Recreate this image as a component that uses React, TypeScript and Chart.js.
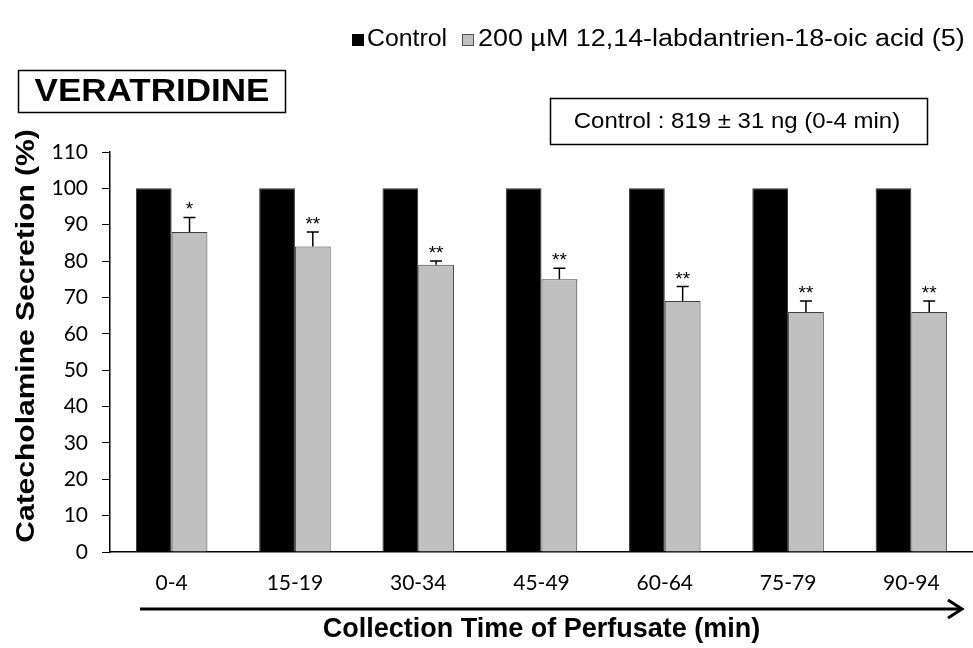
import React, { useEffect, useRef } from 'react';
import { Chart, registerables } from 'chart.js';

Chart.register(...registerables);

const categories = ['0-4', '15-19', '30-34', '45-49', '60-64', '75-79', '90-94'];
const controlValues = [100, 100, 100, 100, 100, 100, 100];
const treatedValues = [88, 84, 79, 75, 69, 66, 66];
const treatedErrors = [4, 4, 1, 3, 4, 3, 3];
const significance = ['*', '**', '**', '**', '**', '**', '**'];
const controlLabel = 'Control';
const treatedLabel = '200 \u00b5M 12,14-labdantrien-18-oic acid (5)';
const panelTitle = 'VERATRIDINE';
const controlNote = 'Control : 819 \u00b1 31 ng (0-4 min)';
const yTitle = 'Catecholamine Secretion (%)';
const xTitle = 'Collection Time of Perfusate (min)';

function drawText(ctx: CanvasRenderingContext2D, text: string, x: number, y: number, font: string, sx: number, align: CanvasTextAlign, rot = 0) {
  ctx.save();
  ctx.translate(x, y);
  if (rot) ctx.rotate(rot);
  ctx.scale(sx, 1);
  ctx.font = font;
  ctx.textAlign = align;
  ctx.textBaseline = 'middle';
  ctx.fillStyle = '#000';
  ctx.fillText(text, 0, 0);
  ctx.restore();
}

const overlayPlugin = {
  id: 'overlay',
  afterDatasetsDraw(chart: any) {
    const ctx: CanvasRenderingContext2D = chart.ctx;
    const yScale = chart.scales.y;
    const meta = chart.getDatasetMeta(1);
    ctx.save();
    ctx.strokeStyle = '#000';
    ctx.lineWidth = 1.5;
    meta.data.forEach((bar: any, i: number) => {
      const x = bar.x;
      const yTop = yScale.getPixelForValue(treatedValues[i]);
      const yErr = yScale.getPixelForValue(treatedValues[i] + treatedErrors[i]);
      ctx.beginPath();
      ctx.moveTo(x, yTop);
      ctx.lineTo(x, yErr);
      ctx.moveTo(x - 6, yErr);
      ctx.lineTo(x + 6, yErr);
      ctx.stroke();
      ctx.font = '19px "Liberation Sans"';
      ctx.textAlign = 'center';
      ctx.textBaseline = 'alphabetic';
      ctx.fillStyle = '#000';
      ctx.fillText(significance[i], x, yErr - 2);
    });
    ctx.restore();
  },
  afterDraw(chart: any) {
    const ctx: CanvasRenderingContext2D = chart.ctx;
    ctx.save();
    // legend
    ctx.fillStyle = '#000';
    ctx.fillRect(352, 34, 12, 12);
    ctx.fillStyle = '#c0c0c0';
    ctx.fillRect(462, 34, 12, 12);
    ctx.strokeStyle = '#555';
    ctx.lineWidth = 1;
    ctx.strokeRect(462.5, 34.5, 11, 11);
    drawText(ctx, controlLabel, 367, 40, '23px "Liberation Sans"', 1.08, 'left');
    drawText(ctx, treatedLabel, 478, 40, '23px "Liberation Sans"', 1.17, 'left');
    // panel title box
    ctx.strokeStyle = '#000';
    ctx.lineWidth = 1.5;
    ctx.strokeRect(18.5, 70.5, 267, 42);
    drawText(ctx, panelTitle, 152, 92, 'bold 31px "Liberation Sans"', 1.13, 'center');
    // control note box
    ctx.lineWidth = 1.5;
    ctx.strokeRect(550.5, 98.5, 377, 46);
    drawText(ctx, controlNote, 737, 122, '22px "Liberation Sans"', 1.09, 'center');
    // y axis title
    drawText(ctx, yTitle, 27, 336, 'bold 25px "Liberation Sans"', 1.2, 'center', -Math.PI / 2);
    // arrow
    ctx.strokeStyle = '#000';
    ctx.lineWidth = 3;
    ctx.beginPath();
    ctx.moveTo(140, 609);
    ctx.lineTo(961, 609);
    ctx.stroke();
    ctx.beginPath();
    ctx.moveTo(948, 600);
    ctx.lineTo(962, 609);
    ctx.lineTo(948, 618);
    ctx.stroke();
    ctx.restore();
  },
};

export default function App() {
  const canvasRef = useRef<HTMLCanvasElement | null>(null);

  useEffect(() => {
    const canvas = canvasRef.current;
    if (!canvas) return;
    const chart = new Chart(canvas, {
      type: 'bar',
      data: {
        labels: categories,
        datasets: [
          {
            label: controlLabel,
            data: controlValues,
            backgroundColor: '#000000',
            borderColor: '#333333',
            borderWidth: 1,
            barPercentage: 1,
            categoryPercentage: 0.58,
          },
          {
            label: treatedLabel,
            data: treatedValues,
            backgroundColor: '#c0c0c0',
            borderColor: '#404040',
            borderWidth: 1,
            barPercentage: 1,
            categoryPercentage: 0.58,
          },
        ],
      },
      options: {
        animation: false,
        responsive: true,
        maintainAspectRatio: false,
        layout: { padding: { top: 152, left: 0, right: 0, bottom: 0 } },
        plugins: {
          legend: { display: false },
          tooltip: { enabled: false },
          title: { display: false },
        },
        scales: {
          x: {
            grid: { display: true, drawOnChartArea: false, drawTicks: false },
            border: { display: true, color: '#000', width: 1.5 },
            ticks: {
              color: '#000',
              padding: 19,
              font: { family: 'Lato', size: 21 },
              maxRotation: 0,
              autoSkip: false,
            },
            title: {
              display: true,
              text: xTitle,
              color: '#000',
              font: { family: 'Liberation Sans', size: 27, weight: 'bold' },
              padding: { top: 0, bottom: 2 },
            },
            afterFit: (scale: any) => {
              scale.height = 96;
            },
          },
          y: {
            min: 0,
            max: 110,
            ticks: {
              stepSize: 10,
              color: '#000',
              padding: 14,
              font: { family: 'Lato', size: 21 },
            },
            grid: { display: true, drawOnChartArea: false, drawTicks: true, tickLength: 8, color: '#000' },
            border: { display: true, color: '#000', width: 1.5 },
            title: { display: false },
            afterFit: (scale: any) => {
              scale.width = 110;
            },
          },
        },
      },
      plugins: [overlayPlugin],
    });
    return () => chart.destroy();
  }, []);

  return (
    <div style={{ position: 'absolute', left: 0, top: 0, width: 973, height: 648, background: '#fff' }}>
      <canvas ref={canvasRef} />
    </div>
  );
}
